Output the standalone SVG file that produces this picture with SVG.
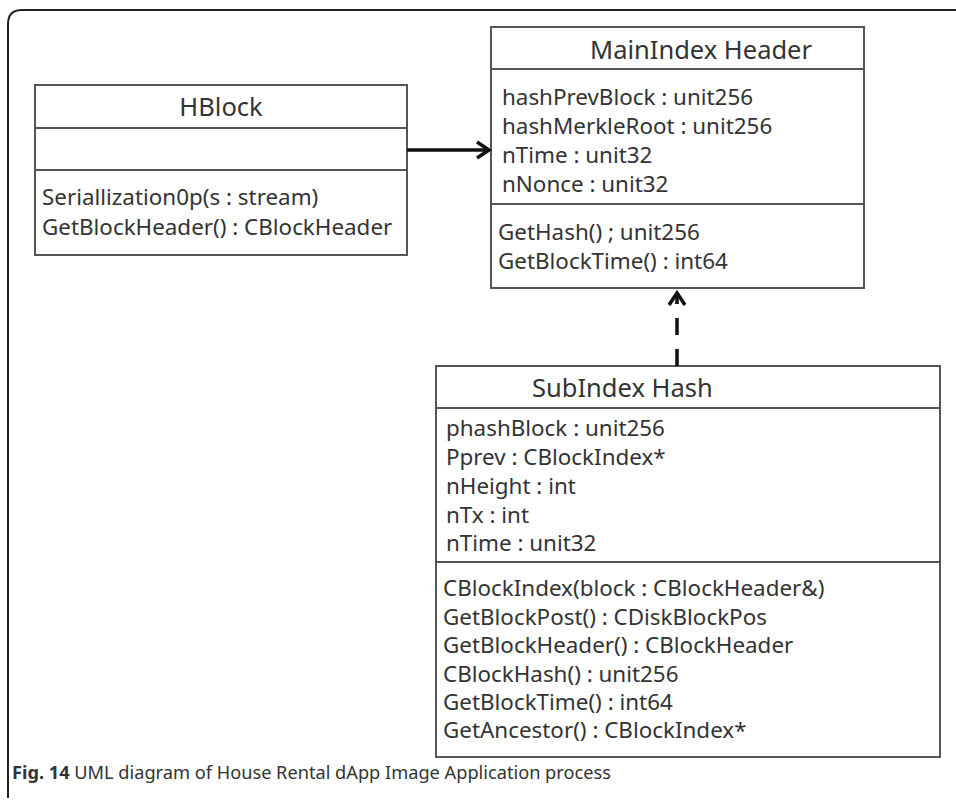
<svg xmlns="http://www.w3.org/2000/svg" width="956" height="800" viewBox="0 0 956 800">
<style>
.box{fill:#fff;stroke:#555;stroke-width:2}
.div{stroke:#555;stroke-width:2}
.t{font-family:"Noto Sans","Open Sans",sans-serif;font-size:22.4px;fill:#333}
.title{font-family:"Noto Sans","Open Sans",sans-serif;font-size:25.5px;fill:#333}
.cap{font-family:"Noto Sans","Open Sans",sans-serif;font-size:18.2px;fill:#333}
.conn{fill:none;stroke:#111;stroke-width:3.5}
</style>
<rect width="956" height="800" fill="#fff"/>
<path d="M8,798 V24 Q8,10 22,10 H956" fill="none" stroke="#222" stroke-width="2"/>
<g id="hblock">
<rect class="box" x="35" y="85" width="372" height="170"/>
<line class="div" x1="35" y1="128" x2="407" y2="128"/>
<line class="div" x1="35" y1="170" x2="407" y2="170" stroke-width="3"/>
<text class="title" x="221" y="116" text-anchor="middle">HBlock</text>
<text class="t" x="42" y="205">Seriallization0p(s : stream)</text>
<text class="t" x="42" y="235">GetBlockHeader() : CBlockHeader</text>
</g>
<g id="mainindex">
<rect class="box" x="491" y="27" width="373" height="261"/>
<line class="div" x1="491" y1="69" x2="864" y2="69"/>
<line class="div" x1="491" y1="204" x2="864" y2="204"/>
<text class="title" x="590" y="59">MainIndex Header</text>
<text class="t" x="502" y="105">hashPrevBlock : unit256</text>
<text class="t" x="502" y="134">hashMerkleRoot : unit256</text>
<text class="t" x="502" y="163">nTime : unit32</text>
<text class="t" x="502" y="192">nNonce : unit32</text>
<text class="t" x="498" y="240">GetHash() ; unit256</text>
<text class="t" x="498" y="269">GetBlockTime() : int64</text>
</g>
<g id="subindex">
<rect class="box" x="436" y="366" width="504" height="391"/>
<line class="div" x1="436" y1="408" x2="940" y2="408"/>
<line class="div" x1="436" y1="562" x2="940" y2="562"/>
<text class="title" x="532" y="397">SubIndex Hash</text>
<text class="t" x="446" y="436">phashBlock : unit256</text>
<text class="t" x="446" y="465">Pprev : CBlockIndex*</text>
<text class="t" x="446" y="494">nHeight : int</text>
<text class="t" x="446" y="523">nTx : int</text>
<text class="t" x="446" y="551">nTime : unit32</text>
<text class="t" x="443" y="596">CBlockIndex(block : CBlockHeader&amp;)</text>
<text class="t" x="443" y="625">GetBlockPost() : CDiskBlockPos</text>
<text class="t" x="443" y="653">GetBlockHeader() : CBlockHeader</text>
<text class="t" x="443" y="682">CBlockHash() : unit256</text>
<text class="t" x="443" y="710">GetBlockTime() : int64</text>
<text class="t" x="443" y="738">GetAncestor() : CBlockIndex*</text>
</g>
<g id="connectors">
<line class="conn" x1="407" y1="150" x2="488" y2="150"/>
<polyline class="conn" points="477,142 489,150 477,158"/>
<line class="conn" x1="677" y1="366" x2="677" y2="296" stroke-width="4" stroke-dasharray="17,14"/>
<polyline class="conn" points="669,305 677,293 685,305"/>
</g>
<text class="cap" x="12" y="779"><tspan font-weight="bold">Fig. 14</tspan> UML diagram of House Rental dApp Image Application process</text>
</svg>
